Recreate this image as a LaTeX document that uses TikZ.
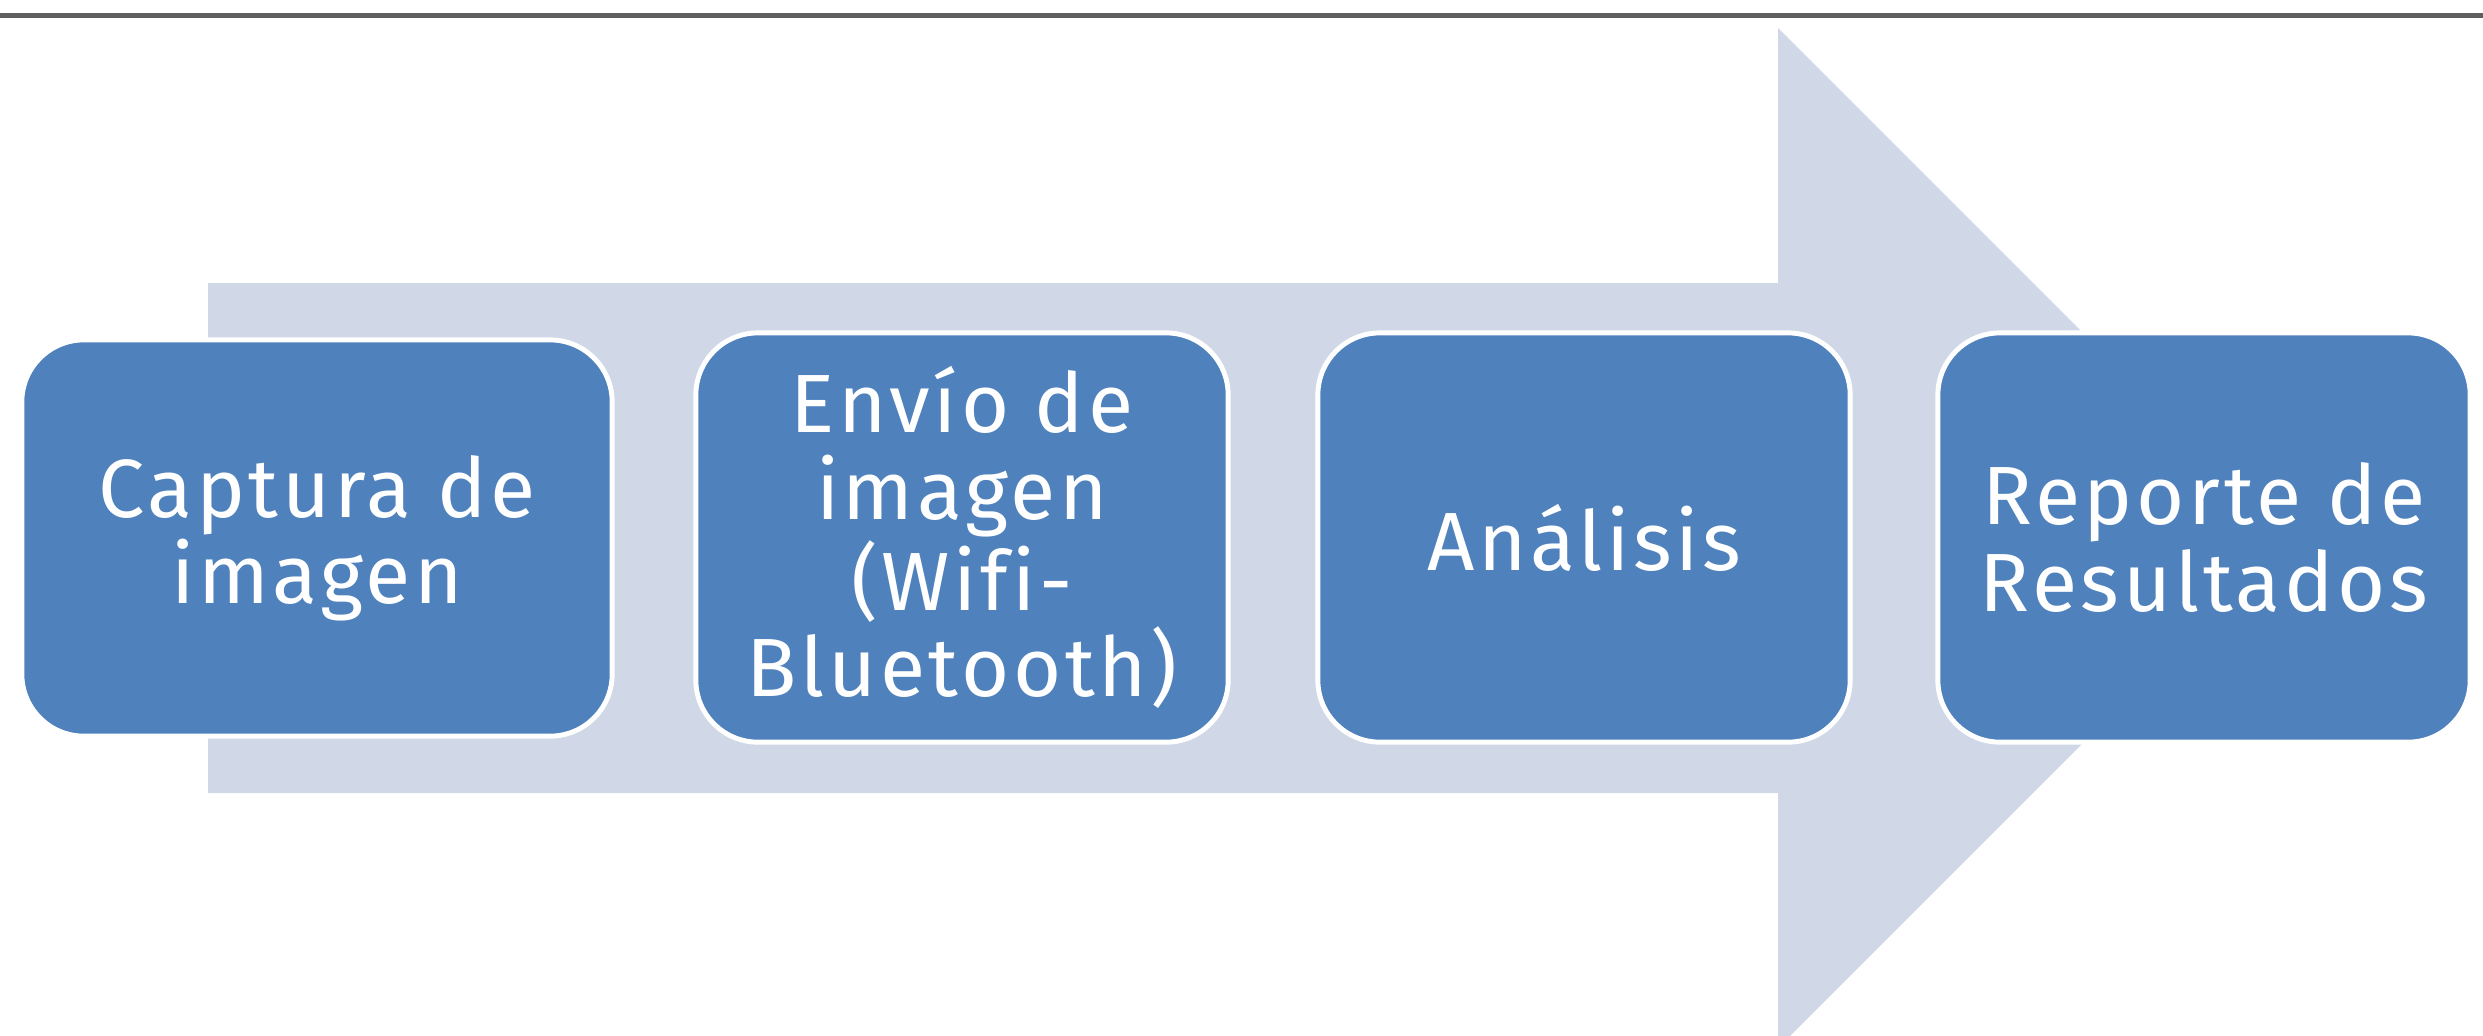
\documentclass[tikz,border=0pt]{standalone}
\usepackage{fontspec}
\setmainfont{Fira Sans}[Ligatures=NoCommon, LetterSpace=4.5]
\definecolor{stepblue}{HTML}{4F81BD}
\definecolor{arrowfill}{HTML}{D0D8E8}
\definecolor{rulegray}{HTML}{5F5F5F}
\begin{document}
\begin{tikzpicture}[x=0.01cm, y=-0.01cm,
  stepbox/.style={rectangle, rounded corners=0.62cm, fill=stepblue,
    draw=white, line width=1.4pt, text=white, align=center, inner sep=0pt,
    font=\fontsize{23.5}{24.5}\selectfont,
    minimum width=5.32cm, minimum height=4.09cm},
  bigarrow/.style={fill=arrowfill},
  toprule/.style={draw=rulegray, line width=1.42pt}]
\useasboundingbox (0,0) rectangle (2483,1035);
\clip (0,0) rectangle (2483,1035);

% block arrow in the background
\fill[bigarrow] (208,283) -- (1778,283) -- (1778,28) -- (2288,538)
  -- (1778,1048) -- (1778,793) -- (208,793) -- cycle;

% rule along the top edge
\coordinate (ruleL) at (0,15);
\coordinate (ruleR) at (2483,15);
\draw[toprule] (ruleL) -- (ruleR);

% process steps
\node[stepbox, minimum width=5.90cm, minimum height=3.96cm] (s1) at (317,538)
  {Captura de\\imagen};
\node[stepbox] (s2) at (962,537.5)
  {Envío de\\imagen\\(Wifi-\\Bluetooth)};
\node[stepbox] (s3) at (1584,537.5) {Análisis};
\node[stepbox] (s4) at (2204,537.5) {Reporte de\\Resultados};
\end{tikzpicture}
\end{document}
